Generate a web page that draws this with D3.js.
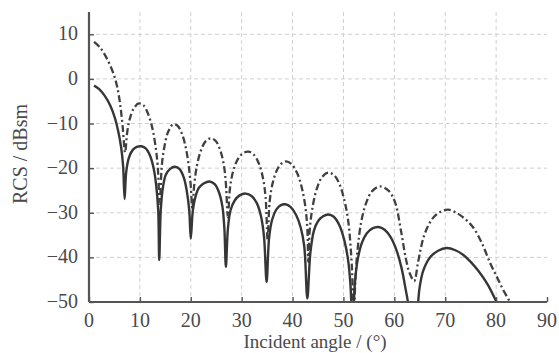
<!DOCTYPE html>
<html>
<head>
<meta charset="utf-8">
<script src="https://cdn.jsdelivr.net/npm/d3@7"></script>
<style>
  body { margin: 0; background: #fff; }
  svg text { font-family: "Liberation Serif", "DejaVu Serif", serif; fill: #4a4a4a; }
</style>
</head>
<body>
<div id="chart"></div>
<script>
// values: angle (deg) and RCS (dBsm)
var solidAngle = [1.0, 2.0, 3.1, 4.2, 5.1, 5.7, 6.3, 6.7, 7.0, 7.3, 7.8, 8.6, 9.5, 10.3, 11.2, 12.0, 12.7, 13.2, 13.6, 13.8,
  14.1, 14.5, 15.1, 16.0, 16.9, 17.8, 18.6, 19.2, 19.7, 20.0, 20.4, 20.9, 21.6, 22.6, 23.7, 24.7, 25.5, 26.2, 26.6, 26.9,
  27.3, 27.8, 28.6, 29.6, 30.8, 32.0, 33.0, 33.8, 34.4, 34.9, 35.4, 36.0, 36.8, 37.7, 38.6, 39.6, 40.7, 41.6, 42.3, 42.9,
  43.5, 44.2, 45.0, 46.0, 47.0, 48.1, 49.2, 50.2, 50.9, 51.4, 51.8, 52.2, 52.8, 53.6, 54.6, 55.7, 56.9, 58.1, 59.3, 60.4,
  61.4, 62.2, 62.8, 63.7, 64.6, 65.0, 65.7, 67.0, 68.6, 70.3, 72.0, 73.5, 75.0, 76.5, 78.3, 80.1, 81.0];
var solidRcs = [-1.5, -2.3, -3.8, -6.0, -8.8, -11.5, -15.2, -19.5, -26.9, -21, -17.8, -15.9, -15.2, -15.1, -15.6, -17.2, -20, -23.8, -29.5, -40.6,
  -29.5, -24.5, -21.5, -20.1, -19.7, -20.2, -22.0, -25.0, -29.5, -35.8, -29.5, -26.5, -24.4, -23.4, -23.0, -23.6, -25.3, -28.5, -33.5, -42.1,
  -33.5, -29.5, -27.3, -26.1, -25.7, -26.3, -27.9, -30.8, -35.5, -45.5, -35.5, -31.5, -29.3, -28.3, -28.1, -28.7, -30.5, -33.3, -37.5, -49.2,
  -39, -34, -31.9, -30.8, -30.4, -30.9, -32.8, -36.3, -40.5, -46.5, -58, -46.5, -40.5, -36.8, -34.6, -33.5, -33.2, -33.8, -35.5, -38.3,
  -42.3, -47, -51, -62, -51, -46.5, -42.9, -40, -38.5, -37.9, -38.4, -39.4, -41.0, -43.0, -46.0, -50, -52];

var dashAngle = [1.0, 2.2, 3.5, 4.8, 5.5, 6.1, 6.6, 7.1, 7.5, 8.0, 8.8, 9.8, 10.7, 11.6, 12.4, 13.0, 13.5, 13.9,
  14.3, 14.8, 15.5, 16.5, 17.4, 18.3, 19.0, 19.6, 20.0, 20.3, 20.7, 21.2, 22.0, 22.9, 23.9, 24.9, 25.8, 26.5, 26.9, 27.3,
  27.7, 28.3, 29.1, 30.2, 31.3, 32.4, 33.4, 34.2, 34.7, 35.1, 35.5, 36.1, 36.9, 37.7, 38.7, 39.8, 40.9, 41.8, 42.5, 42.9, 43.1,
  43.4, 44.0, 44.8, 45.8, 47.0, 48.2, 49.3, 50.2, 50.9, 51.4, 51.8, 52.0, 52.3, 52.8, 53.5, 54.4, 55.6, 57.2, 58.8, 60.1,
  61.3, 62.3, 63.0, 63.9, 64.6, 65.2, 65.8, 66.7, 67.8, 69.2, 70.6, 72.2, 73.8, 75.5, 77.2, 78.8, 80.2, 81.4, 82.7, 83.4];
var dashRcs = [8.3, 7.0, 4.6, 1.2, -1.6, -5.5, -10.5, -16.5, -12.0, -9.0, -6.6, -5.5, -5.9, -7.8, -10.8, -14.5, -19.5, -28,
  -19.5, -15.3, -12, -10.2, -10.5, -12.4, -15.3, -19.5, -24, -29, -23.5, -19.5, -16, -14, -13.3, -13.9, -16, -19.3, -23.5, -31,
  -24.5, -20.8, -18.3, -16.7, -16.3, -17, -19, -22.3, -26.5, -36, -27.5, -23.3, -20.5, -19.1, -18.5, -19.1, -21.1, -24.3, -28.5, -33.5, -41,
  -33.5, -28.3, -24.5, -22, -21.0, -21.6, -23.8, -27.3, -31.5, -37.5, -46, -60, -46, -38, -32, -28, -25.2, -24.1, -25, -27.5,
  -34, -40.5, -43.5, -45.3, -41.5, -38, -35.3, -32.8, -30.9, -29.7, -29.3, -30, -31.3, -33.3, -36.8, -41.2, -44.5, -47.3, -50, -52];

var xTicks = [0, 10, 20, 30, 40, 50, 60, 70, 80, 90];
var yTicks = [10, 0, -10, -20, -30, -40, -50];

var W = 559, H = 353;
var padL = 89, padR = 547, padT = 12, padB = 302;

var svg = d3.select("#chart").append("svg")
    .attr("width", W)
    .attr("height", H);

var x = d3.scaleLinear().domain([0, 90]).range([padL, padR]);
var y = d3.scaleLinear().domain([-50, 15]).range([padB, padT]);

// grid
svg.append("g").selectAll("line")
    .data(xTicks.filter(function(d) { return d > 0 && d < 90; }))
    .enter().append("line")
    .attr("x1", function(d) { return x(d); })
    .attr("x2", function(d) { return x(d); })
    .attr("y1", padT)
    .attr("y2", padB)
    .style("stroke", "#cfcfcf")
    .style("stroke-width", 1)
    .style("stroke-dasharray", "4,3");

svg.append("g").selectAll("line")
    .data(yTicks.filter(function(d) { return d > -50; }))
    .enter().append("line")
    .attr("x1", padL)
    .attr("x2", padR)
    .attr("y1", function(d) { return y(d); })
    .attr("y2", function(d) { return y(d); })
    .style("stroke", "#cfcfcf")
    .style("stroke-width", 1)
    .style("stroke-dasharray", "4,3");

// curves, clipped to the plot
svg.append("clipPath").attr("id", "plot")
  .append("rect")
    .attr("x", padL).attr("y", padT)
    .attr("width", padR - padL).attr("height", padB - padT);

var line = d3.line()
    .x(function(d) { return x(d[0]); })
    .y(function(d) { return y(d[1]); })
    .curve(d3.curveCatmullRom.alpha(0.5));

var solid = d3.zip(solidAngle, solidRcs);
var dashed = d3.zip(dashAngle, dashRcs);

var curves = svg.append("g").attr("clip-path", "url(#plot)");

curves.append("path")
    .datum(dashed)
    .attr("d", line)
    .style("fill", "none")
    .style("stroke", "#404040")
    .style("stroke-width", 2.3)
    .style("stroke-dasharray", "7,3,2,3");

curves.append("path")
    .datum(solid)
    .attr("d", line)
    .style("fill", "none")
    .style("stroke", "#363636")
    .style("stroke-width", 2.4);

// axes
var xAxis = svg.append("g")
    .attr("transform", "translate(0," + padB + ")")
    .call(d3.axisTop(x).tickValues(xTicks).tickSize(5).tickFormat(""));
var yAxis = svg.append("g")
    .attr("transform", "translate(" + padL + ",0)")
    .call(d3.axisRight(y).tickValues(yTicks).tickSize(5).tickFormat(""));

[xAxis, yAxis].forEach(function(a) {
  a.select(".domain").remove();
  a.selectAll("line").style("stroke", "#555").style("stroke-width", 1.4);
});

svg.append("line")
    .attr("x1", padL).attr("x2", padR)
    .attr("y1", padB).attr("y2", padB)
    .style("stroke", "#555").style("stroke-width", 2.2);
svg.append("line")
    .attr("x1", padL).attr("x2", padL)
    .attr("y1", padT).attr("y2", padB)
    .style("stroke", "#555").style("stroke-width", 2.2);

// tick labels
svg.append("g").selectAll("text")
    .data(xTicks)
    .enter().append("text")
    .attr("x", function(d) { return x(d); })
    .attr("y", padB + 25)
    .attr("text-anchor", "middle")
    .style("font-size", "20px")
    .text(function(d) { return d; });

svg.append("g").selectAll("text")
    .data(yTicks)
    .enter().append("text")
    .attr("x", padL - 11)
    .attr("y", function(d) { return y(d) + 6; })
    .attr("text-anchor", "end")
    .style("font-size", "20px")
    .text(function(d) { return d < 0 ? "\u2212" + Math.abs(d) : d; });

// axis titles
svg.append("text")
    .attr("x", 315)
    .attr("y", 348)
    .attr("text-anchor", "middle")
    .style("font-size", "19px")
    .text("Incident angle / (\u00b0)");

svg.append("text")
    .attr("transform", "translate(27,154) rotate(-90)")
    .attr("text-anchor", "middle")
    .style("font-size", "20px")
    .text("RCS / dBsm");
</script>
</body>
</html>
